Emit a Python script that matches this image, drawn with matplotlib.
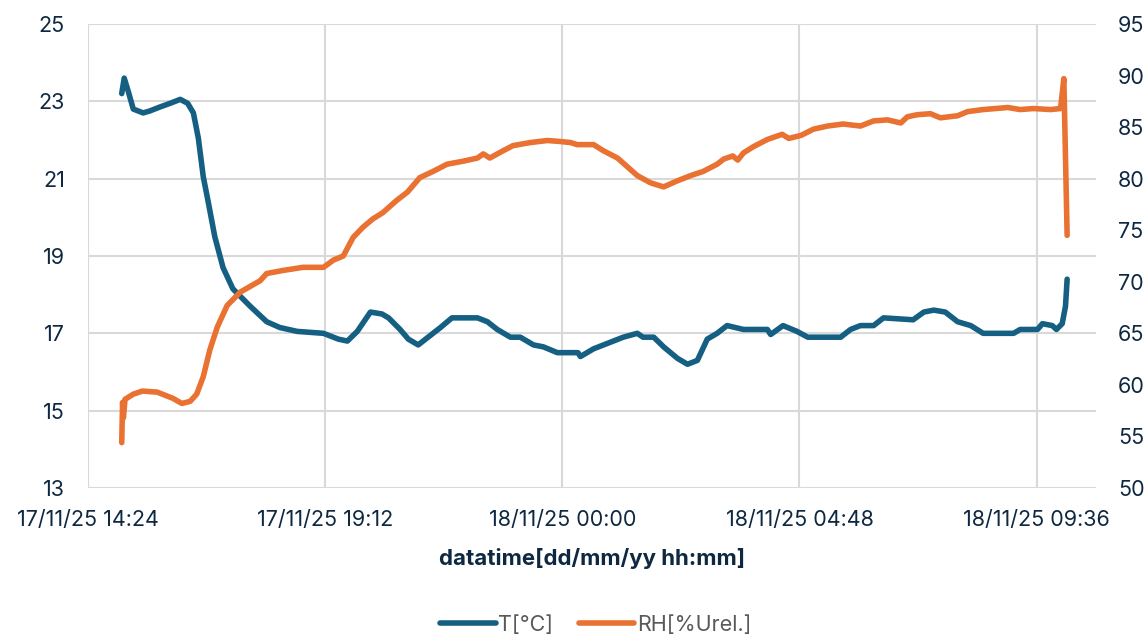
import matplotlib
matplotlib.use("Agg")
import matplotlib.pyplot as plt
import matplotlib.dates as mdates
import pandas as pd

plt.rcParams['font.family'] = ['Inter', 'DejaVu Sans']

# temperature log
t_time = [
  "17/11/25 15:05", "17/11/25 15:08", "17/11/25 15:13", "17/11/25 15:19", "17/11/25 15:31",
  "17/11/25 15:39", "17/11/25 15:51", "17/11/25 16:04", "17/11/25 16:16", "17/11/25 16:25",
  "17/11/25 16:32", "17/11/25 16:38", "17/11/25 16:44", "17/11/25 16:50", "17/11/25 16:58",
  "17/11/25 17:08", "17/11/25 17:20", "17/11/25 17:41", "17/11/25 18:01", "17/11/25 18:17",
  "17/11/25 18:38", "17/11/25 19:10", "17/11/25 19:28", "17/11/25 19:39", "17/11/25 19:51",
  "17/11/25 20:07", "17/11/25 20:21", "17/11/25 20:29", "17/11/25 20:43", "17/11/25 20:53",
  "17/11/25 21:05", "17/11/25 21:20", "17/11/25 21:32", "17/11/25 21:46", "17/11/25 22:17",
  "17/11/25 22:29", "17/11/25 22:41", "17/11/25 22:57", "17/11/25 23:09", "17/11/25 23:25",
  "17/11/25 23:37", "17/11/25 23:54", "18/11/25 00:19", "18/11/25 00:22", "18/11/25 00:38",
  "18/11/25 00:50", "18/11/25 01:02", "18/11/25 01:14", "18/11/25 01:31", "18/11/25 01:38",
  "18/11/25 01:51", "18/11/25 02:03", "18/11/25 02:20", "18/11/25 02:32", "18/11/25 02:44",
  "18/11/25 02:56", "18/11/25 03:08", "18/11/25 03:20", "18/11/25 03:40", "18/11/25 04:09",
  "18/11/25 04:13", "18/11/25 04:28", "18/11/25 04:45", "18/11/25 04:58", "18/11/25 05:38",
  "18/11/25 05:50", "18/11/25 06:02", "18/11/25 06:18", "18/11/25 06:30", "18/11/25 07:06",
  "18/11/25 07:19", "18/11/25 07:31", "18/11/25 07:45", "18/11/25 08:00", "18/11/25 08:16",
  "18/11/25 08:31", "18/11/25 09:08", "18/11/25 09:16", "18/11/25 09:37", "18/11/25 09:43",
  "18/11/25 09:55", "18/11/25 10:00", "18/11/25 10:07", "18/11/25 10:11", "18/11/25 10:13",
]
t_val = [
  23.2, 23.6, 23.25, 22.8, 22.7,
  22.75, 22.85, 22.95, 23.05, 22.95,
  22.7, 22.05, 21.05, 20.4, 19.5,
  18.7, 18.15, 17.7, 17.3, 17.15,
  17.05, 17.0, 16.85, 16.8, 17.05,
  17.55, 17.5, 17.4, 17.1, 16.85,
  16.7, 16.95, 17.15, 17.4, 17.4,
  17.3, 17.1, 16.9, 16.9, 16.7,
  16.65, 16.5, 16.5, 16.4, 16.6,
  16.7, 16.8, 16.9, 17.0, 16.9,
  16.9, 16.65, 16.35, 16.2, 16.3,
  16.85, 17.0, 17.2, 17.1, 17.1,
  16.97, 17.2, 17.05, 16.9, 16.9,
  17.1, 17.2, 17.2, 17.4, 17.35,
  17.55, 17.6, 17.55, 17.3, 17.2,
  17.0, 17.0, 17.1, 17.1, 17.25,
  17.2, 17.1, 17.25, 17.7, 18.4,
]

# relative humidity log
rh_time = [
  "17/11/25 15:05", "17/11/25 15:06", "17/11/25 15:07", "17/11/25 15:09", "17/11/25 15:19",
  "17/11/25 15:30", "17/11/25 15:48", "17/11/25 16:07", "17/11/25 16:18", "17/11/25 16:28",
  "17/11/25 16:36", "17/11/25 16:44", "17/11/25 16:52", "17/11/25 17:01", "17/11/25 17:13",
  "17/11/25 17:29", "17/11/25 17:53", "17/11/25 18:01", "17/11/25 18:21", "17/11/25 18:45",
  "17/11/25 19:10", "17/11/25 19:22", "17/11/25 19:34", "17/11/25 19:46", "17/11/25 19:58",
  "17/11/25 20:10", "17/11/25 20:22", "17/11/25 20:39", "17/11/25 20:52", "17/11/25 21:07",
  "17/11/25 21:23", "17/11/25 21:40", "17/11/25 22:00", "17/11/25 22:17", "17/11/25 22:24",
  "17/11/25 22:32", "17/11/25 22:48", "17/11/25 23:00", "17/11/25 23:21", "17/11/25 23:42",
  "17/11/25 23:58", "18/11/25 00:10", "18/11/25 00:18", "18/11/25 00:38", "18/11/25 00:50",
  "18/11/25 01:07", "18/11/25 01:31", "18/11/25 01:47", "18/11/25 02:03", "18/11/25 02:20",
  "18/11/25 02:36", "18/11/25 02:51", "18/11/25 03:08", "18/11/25 03:16", "18/11/25 03:27",
  "18/11/25 03:33", "18/11/25 03:40", "18/11/25 03:52", "18/11/25 04:09", "18/11/25 04:27",
  "18/11/25 04:35", "18/11/25 04:50", "18/11/25 05:05", "18/11/25 05:22", "18/11/25 05:41",
  "18/11/25 06:02", "18/11/25 06:18", "18/11/25 06:35", "18/11/25 06:51", "18/11/25 06:59",
  "18/11/25 07:11", "18/11/25 07:27", "18/11/25 07:39", "18/11/25 08:00", "18/11/25 08:12",
  "18/11/25 08:31", "18/11/25 09:01", "18/11/25 09:16", "18/11/25 09:32", "18/11/25 09:53",
  "18/11/25 10:05", "18/11/25 10:09", "18/11/25 10:13",
]
rh_val = [
  54.4, 58.3, 56.8, 58.6, 59.1,
  59.4, 59.3, 58.7, 58.2, 58.4,
  59.1, 60.8, 63.4, 65.6, 67.7,
  69.0, 70.1, 70.8, 71.1, 71.4,
  71.4, 72.1, 72.5, 74.3, 75.3,
  76.1, 76.7, 77.9, 78.7, 80.1,
  80.7, 81.4, 81.7, 82.0, 82.4,
  82.0, 82.7, 83.2, 83.5, 83.7,
  83.6, 83.5, 83.3, 83.3, 82.7,
  82.0, 80.3, 79.6, 79.2, 79.8,
  80.3, 80.7, 81.4, 81.9, 82.2,
  81.8, 82.5, 83.1, 83.8, 84.3,
  83.9, 84.2, 84.8, 85.1, 85.3,
  85.1, 85.6, 85.7, 85.4, 86.0,
  86.2, 86.3, 85.9, 86.1, 86.5,
  86.7, 86.9, 86.7, 86.8, 86.7,
  86.8, 89.7, 74.5,
]

fmt = "%d/%m/%y %H:%M"
t_x = pd.to_datetime(t_time, format=fmt)
rh_x = pd.to_datetime(rh_time, format=fmt)

blue = '#156082'
orange = '#E97132'
navy = '#0E2841'
grid_c = '#D9D9D9'

fig = plt.figure(figsize=(11.47, 6.36), dpi=100)
ax = fig.add_axes([0.0767, 0.2327, 0.8788, 0.7296])
ax2 = ax.twinx()

l1, = ax.plot(t_x, t_val, color=blue, lw=4.0, solid_capstyle='round',
              solid_joinstyle='round', label='T[°C]')
l2, = ax2.plot(rh_x, rh_val, color=orange, lw=4.0, solid_capstyle='round',
               solid_joinstyle='round', label='RH[%Urel.]')

ax.set_xlim(pd.Timestamp("2025-11-17 14:24"), pd.Timestamp("2025-11-18 10:48"))
ax.set_xticks(pd.date_range("2025-11-17 14:24", periods=5, freq="288min"))
ax.xaxis.set_major_formatter(mdates.DateFormatter(fmt))

ax.set_ylim(13, 25)
ax.set_yticks(range(13, 26, 2))
ax2.set_ylim(50, 95)
ax2.set_yticks(range(50, 96, 5))

ax.grid(True, color=grid_c, lw=1.5)
ax.set_axisbelow(True)
for a in (ax, ax2):
  for s in a.spines.values():
    s.set_visible(False)
  a.tick_params(length=0, labelsize=15.5, labelcolor=navy)
ax.tick_params(axis='y', pad=16.5)
ax.tick_params(axis='x', pad=16)
ax2.tick_params(axis='y', pad=15.8)

fig.text(0.516, 0.1226, 'datatime[dd/mm/yy hh:mm]', ha='center', va='center',
         fontsize=16, fontweight='bold', color=navy)

leg = fig.legend(handles=[l1, l2], loc='center', bbox_to_anchor=(0.519, 0.0173),
                 ncol=2, frameon=False, fontsize=15.5, handlelength=2.6,
                 handletextpad=0.1, columnspacing=1.2)
for t in leg.get_texts():
  t.set_color('#595959')

fig.savefig('out.png', dpi=100)
